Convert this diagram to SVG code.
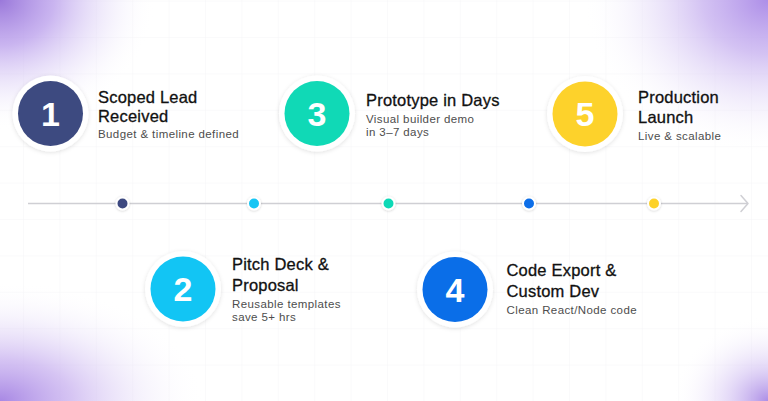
<svg xmlns="http://www.w3.org/2000/svg" width="768" height="401" viewBox="0 0 768 401">
<defs>
<radialGradient id="gTL" cx="0" cy="0" r="1" gradientUnits="userSpaceOnUse" gradientTransform="translate(0,0) scale(155,130)">
<stop offset="0" stop-color="#9a78da" stop-opacity="1"/>
<stop offset="0.35" stop-color="#b89ceb" stop-opacity="0.75"/>
<stop offset="0.7" stop-color="#dcd0f6" stop-opacity="0.35"/>
<stop offset="1" stop-color="#ffffff" stop-opacity="0"/>
</radialGradient>
<radialGradient id="gTR" cx="0" cy="0" r="1" gradientUnits="userSpaceOnUse" gradientTransform="translate(768,0) scale(185,155)">
<stop offset="0" stop-color="#ad8ee8" stop-opacity="1"/>
<stop offset="0.35" stop-color="#c5aeef" stop-opacity="0.75"/>
<stop offset="0.7" stop-color="#e2d8f7" stop-opacity="0.35"/>
<stop offset="1" stop-color="#ffffff" stop-opacity="0"/>
</radialGradient>
<radialGradient id="gBL" cx="0" cy="0" r="1" gradientUnits="userSpaceOnUse" gradientTransform="translate(0,401) scale(205,120)">
<stop offset="0" stop-color="#a888e4" stop-opacity="1"/>
<stop offset="0.35" stop-color="#c4abee" stop-opacity="0.7"/>
<stop offset="0.7" stop-color="#e3d9f7" stop-opacity="0.3"/>
<stop offset="1" stop-color="#ffffff" stop-opacity="0"/>
</radialGradient>
<radialGradient id="gBR" cx="0" cy="0" r="1" gradientUnits="userSpaceOnUse" gradientTransform="translate(768,401) scale(95,85)">
<stop offset="0" stop-color="#a888e4" stop-opacity="0.95"/>
<stop offset="0.4" stop-color="#cdb9f1" stop-opacity="0.55"/>
<stop offset="1" stop-color="#ffffff" stop-opacity="0"/>
</radialGradient>
<pattern id="grid" x="23" y="37" width="36.4" height="36.4" patternUnits="userSpaceOnUse">
<path d="M0 0 H36.4 M0 0 V36.4" fill="none" stroke="#f5f5f8" stroke-width="1"/>
</pattern>
<filter id="sh" x="-30%" y="-30%" width="160%" height="160%">
<feDropShadow dx="0" dy="1" stdDeviation="2" flood-color="#000" flood-opacity="0.12"/>
</filter>
<filter id="shs" x="-60%" y="-60%" width="220%" height="220%">
<feDropShadow dx="0" dy="0.5" stdDeviation="1" flood-color="#000" flood-opacity="0.2"/>
</filter>
</defs>
<style>
.ring{fill:#ffffff;filter:url(#sh);}
.num{font-family:"Liberation Sans",Arial,sans-serif;font-weight:700;font-size:34px;fill:#ffffff;text-anchor:middle;}
.t{font-family:"Liberation Sans",Arial,sans-serif;font-weight:400;font-size:16.5px;letter-spacing:0.2px;fill:#111111;stroke:#111111;stroke-width:0.3;}
.s{font-family:"Liberation Sans",Arial,sans-serif;font-weight:400;font-size:11.5px;letter-spacing:0.4px;fill:#4d4d4d;}
.dot{stroke:#ffffff;stroke-width:2;filter:url(#shs);}
</style>
<rect width="768" height="401" fill="#ffffff"/>
<rect width="768" height="401" fill="url(#grid)"/>
<rect width="768" height="401" fill="url(#gTL)"/>
<rect width="768" height="401" fill="url(#gTR)"/>
<rect width="768" height="401" fill="url(#gBL)"/>
<rect width="768" height="401" fill="url(#gBR)"/>

<g id="connectors">
<line x1="28" y1="203.5" x2="748" y2="203.5" stroke="#cfcfd4" stroke-width="1.5"/>
<path d="M741 195.5 L748 203.5 L741 211.5" fill="none" stroke="#cfcfd4" stroke-width="1.5" stroke-linecap="round" stroke-linejoin="round"/>
<circle class="dot" cx="122.5" cy="203.5" r="6" fill="#3d4a80"/>
<circle class="dot" cx="254" cy="203.5" r="6" fill="#12c5f4"/>
<circle class="dot" cx="388.5" cy="203.5" r="6" fill="#10d9b6"/>
<circle class="dot" cx="529" cy="203.5" r="6" fill="#0a6ee8"/>
<circle class="dot" cx="654" cy="203.5" r="6" fill="#fdd22b"/>
</g>

<g id="node1">
<circle class="ring" cx="50.5" cy="113.5" r="38"/>
<circle cx="50.5" cy="113.5" r="32.5" fill="#3d4a80"/>
<text class="num" x="50.5" y="125.5">1</text>
<text class="t" x="98" y="103">Scoped Lead<tspan x="98" dy="19">Received</tspan></text>
<text class="s" x="98" y="137.5">Budget &amp; timeline defined</text>
</g>

<g id="node2">
<circle class="ring" cx="183" cy="289" r="38"/>
<circle cx="183" cy="289" r="32.5" fill="#12c5f4"/>
<text class="num" x="183" y="301">2</text>
<text class="t" x="232" y="270">Pitch Deck &amp;<tspan x="232" dy="21">Proposal</tspan></text>
<text class="s" x="232" y="307.5">Reusable templates<tspan x="232" dy="13.5">save 5+ hrs</tspan></text>
</g>

<g id="node3">
<circle class="ring" cx="317" cy="113.5" r="38"/>
<circle cx="317" cy="113.5" r="32.5" fill="#10d9b6"/>
<text class="num" x="317" y="125.5">3</text>
<text class="t" x="366" y="106">Prototype in Days</text>
<text class="s" x="366" y="122.5">Visual builder demo<tspan x="366" dy="13.5">in 3–7 days</tspan></text>
</g>

<g id="node4">
<circle class="ring" cx="455" cy="289.5" r="38"/>
<circle cx="455" cy="289.5" r="32.5" fill="#0a6ee8"/>
<text class="num" x="455" y="301.5">4</text>
<text class="t" x="506.5" y="276">Code Export &amp;<tspan x="506.5" dy="21">Custom Dev</tspan></text>
<text class="s" x="506.5" y="314">Clean React/Node code</text>
</g>

<g id="node5">
<circle class="ring" cx="585" cy="114" r="38"/>
<circle cx="585" cy="114" r="32.5" fill="#fdd22b"/>
<text class="num" x="585" y="126">5</text>
<text class="t" x="638" y="103">Production<tspan x="638" dy="20">Launch</tspan></text>
<text class="s" x="638" y="140">Live &amp; scalable</text>
</g>
</svg>
